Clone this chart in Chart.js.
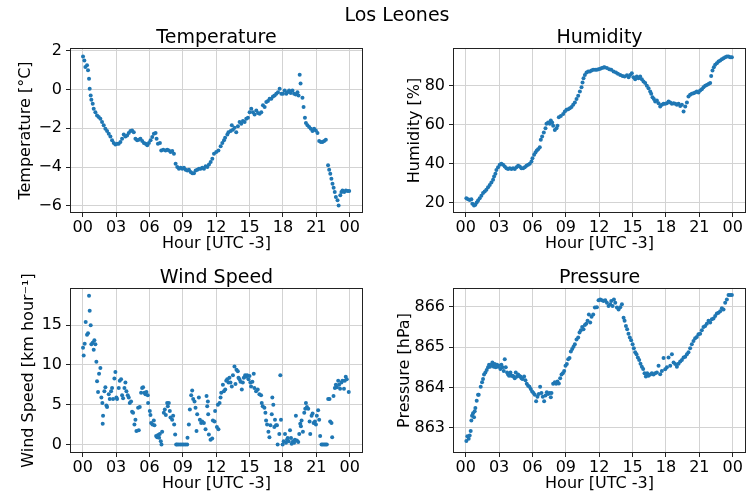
<!DOCTYPE html>
<html><head><meta charset="utf-8">
<script src="https://cdn.jsdelivr.net/npm/chart.js@4"></script>
<style>
html,body{margin:0;padding:0;background:#fff;}
#wrap{position:relative;width:748px;height:493px;overflow:hidden;}
canvas{position:absolute;left:0;top:0;}
</style></head><body>
<div id="wrap">
<canvas id="cTemp" width="748" height="493"></canvas>
<canvas id="cHum" width="748" height="493"></canvas>
<canvas id="cWind" width="748" height="493"></canvas>
<canvas id="cPres" width="748" height="493"></canvas>
</div>
<script>
// ---------- text ----------
const suptitle = 'Los Leones';
const xAxisTitle = 'Hour [UTC -3]';
const panelTitles = ['Temperature', 'Humidity', 'Wind Speed', 'Pressure'];
const yAxisTitles = ['Temperature [°C]', 'Humidity [%]', 'Wind Speed [km hour\u207B\u00B9]', 'Pressure [hPa]'];

// ---------- ticks ----------
const xTickValues = [0, 3, 6, 9, 12, 15, 18, 21, 24];
const xTickLabels = ['00', '03', '06', '09', '12', '15', '18', '21', '00'];
const tempTickValues = [-6, -4, -2, 0, 2];
const tempTickLabels = ['\u22126', '\u22124', '\u22122', '0', '2'];
const humTickValues = [20, 40, 60, 80];
const humTickLabels = ['20', '40', '60', '80'];
const windTickValues = [0, 5, 10, 15];
const windTickLabels = ['0', '5', '10', '15'];
const presTickValues = [863, 864, 865, 866];
const presTickLabels = ['863', '864', '865', '866'];

// ---------- data (hours after 00 UTC-3, values) ----------
const tempHours = [0.03,0.15,0.24,0.39,0.48,0.57,0.63,0.72,0.78,0.90,0.99,1.14,1.29,1.44,1.59,1.74,1.89,2.04,2.19,2.34,2.49,2.64,2.79,2.94,3.09,3.24,3.39,3.54,3.69,3.84,3.99,4.14,4.29,4.44,4.59,4.74,4.89,5.04,5.19,5.35,5.50,5.65,5.80,5.95,6.10,6.25,6.40,6.55,6.64,6.76,6.94,7.06,7.24,7.45,7.60,7.75,7.90,8.05,8.20,8.35,8.50,8.65,8.80,8.95,9.10,9.25,9.40,9.55,9.70,9.85,10.00,10.15,10.30,10.45,10.60,10.75,10.90,11.05,11.20,11.35,11.50,11.65,11.80,12.00,12.20,12.40,12.55,12.70,12.80,13.00,13.10,13.30,13.40,13.50,13.65,13.80,13.95,14.10,14.25,14.40,14.55,14.70,14.85,15.00,15.15,15.30,15.45,15.60,15.75,15.90,16.05,16.20,16.35,16.50,16.65,16.80,16.95,17.10,17.25,17.40,17.55,17.70,17.85,18.00,18.15,18.30,18.40,18.55,18.70,18.85,19.00,19.15,19.30,19.40,19.50,19.58,19.75,19.85,19.97,20.06,20.20,20.35,20.50,20.65,20.80,20.95,21.10,21.25,21.40,21.55,21.70,21.85,22.05,22.15,22.25,22.35,22.45,22.55,22.65,22.75,22.90,23.00,23.15,23.25,23.35,23.50,23.65,23.80,23.95];
const tempValues = [1.70,1.49,1.15,1.24,0.98,0.55,0.03,-0.31,-0.53,-0.74,-0.99,-1.17,-1.34,-1.42,-1.51,-1.68,-1.85,-2.02,-2.14,-2.28,-2.42,-2.62,-2.76,-2.83,-2.80,-2.80,-2.71,-2.54,-2.32,-2.42,-2.37,-2.25,-2.14,-2.11,-2.20,-2.54,-2.62,-2.59,-2.54,-2.66,-2.76,-2.80,-2.88,-2.76,-2.62,-2.45,-2.28,-2.25,-2.54,-2.80,-2.76,-3.14,-3.10,-3.14,-3.10,-3.14,-3.22,-3.17,-3.31,-3.83,-4.00,-4.08,-4.03,-4.08,-4.03,-4.13,-4.17,-4.13,-4.25,-4.31,-4.31,-4.17,-4.13,-4.08,-4.08,-4.03,-4.08,-3.96,-4.00,-3.86,-3.74,-3.57,-3.31,-3.22,-3.14,-2.93,-2.76,-2.62,-2.49,-2.32,-2.20,-2.14,-1.85,-2.08,-1.97,-2.20,-1.90,-1.68,-1.77,-1.63,-1.68,-1.51,-1.46,-1.17,-0.99,-1.17,-1.29,-1.08,-1.22,-1.25,-1.17,-0.82,-0.91,-0.65,-0.60,-0.48,-0.48,-0.36,-0.31,-0.22,-0.14,0.03,-0.22,-0.22,-0.05,-0.22,-0.14,-0.05,-0.19,-0.05,-0.22,-0.26,-0.14,-0.31,0.75,0.30,-0.43,-0.91,-1.46,-1.73,-1.85,-1.94,-2.02,-2.14,-2.02,-2.11,-2.25,-2.66,-2.71,-2.71,-2.66,-2.59,-3.91,-4.13,-4.34,-4.60,-4.85,-5.06,-5.28,-5.54,-5.71,-5.97,-5.45,-5.28,-5.20,-5.28,-5.20,-5.23,-5.23];

const humHours = [0.06,0.21,0.36,0.51,0.60,0.75,0.87,0.99,1.11,1.26,1.41,1.56,1.71,1.86,2.01,2.16,2.31,2.46,2.55,2.67,2.76,2.91,3.06,3.21,3.36,3.51,3.66,3.81,3.96,4.11,4.26,4.41,4.56,4.71,4.86,5.01,5.16,5.31,5.46,5.61,5.76,5.91,6.00,6.15,6.27,6.39,6.51,6.66,6.75,6.87,7.02,7.17,7.26,7.41,7.56,7.65,7.77,7.86,8.01,8.16,8.25,8.37,8.55,8.76,8.91,9.06,9.21,9.36,9.51,9.66,9.81,9.96,10.11,10.26,10.41,10.50,10.59,10.71,10.86,11.01,11.16,11.31,11.46,11.64,11.79,11.94,12.09,12.24,12.39,12.48,12.69,12.90,13.08,13.29,13.50,13.68,13.89,14.10,14.28,14.49,14.64,14.78,14.93,15.08,15.23,15.38,15.53,15.68,15.83,15.98,16.13,16.28,16.43,16.58,16.67,16.79,16.91,17.03,17.18,17.33,17.48,17.63,17.78,17.93,18.08,18.23,18.38,18.53,18.68,18.83,18.98,19.13,19.28,19.43,19.58,19.73,19.88,20.02,20.17,20.32,20.47,20.62,20.77,20.92,21.07,21.22,21.37,21.52,21.67,21.82,21.97,22.06,22.18,22.30,22.42,22.57,22.72,22.87,23.02,23.17,23.32,23.47,23.62,23.77,23.92];
const humValues = [22.4,21.9,21.5,21.9,19.5,18.6,19.0,20.2,21.2,22.4,23.6,25.0,25.8,26.7,28.0,29.2,30.4,31.8,33.5,34.9,36.9,38.3,39.5,40.0,39.5,38.6,37.8,37.3,37.8,37.3,37.8,37.3,38.3,39.0,38.6,37.8,37.8,38.3,39.0,39.5,40.0,41.2,42.9,44.6,45.8,46.8,47.5,48.5,52.3,54.0,56.1,58.3,60.5,61.2,60.5,62.2,61.2,59.5,57.4,58.3,59.5,63.9,64.6,65.6,66.8,67.7,68.0,68.5,69.1,70.3,71.5,73.2,74.9,77.1,79.3,81.7,83.9,85.6,86.8,87.4,87.4,87.9,88.2,88.2,88.3,88.5,88.8,89.1,89.4,89.6,89.1,88.5,88.2,87.4,86.8,86.2,85.6,85.1,84.8,85.5,84.4,85.6,86.5,84.4,83.4,84.8,83.9,84.8,83.4,82.2,81.4,80.0,78.8,77.1,75.9,74.2,73.2,72.0,72.5,71.1,69.4,70.3,70.8,70.8,71.1,72.0,71.5,70.8,71.1,70.8,70.3,70.8,69.7,70.3,66.8,69.4,71.5,74.5,75.4,75.9,76.2,76.6,77.1,76.6,77.6,78.3,79.3,80.0,80.5,81.0,81.4,85.1,87.9,89.6,90.8,91.6,92.5,93.0,93.7,94.2,94.7,95.0,95.0,94.7,94.7];

const windHours = [0.03,0.09,0.18,0.27,0.39,0.48,0.57,0.63,0.72,0.78,0.90,0.99,1.05,1.14,1.23,1.29,1.38,1.47,1.59,1.68,1.77,1.80,1.83,1.95,2.04,2.13,2.19,2.34,2.43,2.55,2.64,2.73,2.85,2.94,3.03,3.09,3.24,3.33,3.45,3.54,3.63,3.75,3.84,3.93,4.05,4.14,4.23,4.35,4.44,4.53,4.65,4.74,4.83,4.98,5.04,5.13,5.25,5.34,5.43,5.55,5.64,5.73,5.85,5.88,6.03,6.09,6.15,6.27,6.39,6.45,6.60,6.69,6.78,6.87,6.93,7.02,7.08,7.14,7.29,7.38,7.47,7.59,7.65,7.74,7.83,7.89,8.04,8.13,8.22,8.31,8.40,8.49,8.64,8.79,8.94,9.09,9.24,9.39,9.42,9.54,9.63,9.75,9.84,9.93,10.05,10.14,10.23,10.29,10.44,10.53,10.65,10.74,10.89,11.04,11.13,11.19,11.25,11.28,11.34,11.49,11.64,11.70,11.85,11.90,12.06,12.15,12.20,12.30,12.39,12.45,12.60,12.69,12.81,12.90,12.99,13.10,13.19,13.28,13.40,13.50,13.64,13.73,13.82,13.94,14.00,14.09,14.18,14.30,14.39,14.48,14.60,14.69,14.78,14.90,14.99,15.07,15.13,15.25,15.37,15.43,15.58,15.73,15.88,16.03,16.09,16.18,16.33,16.42,16.48,16.57,16.69,16.78,16.87,16.99,17.04,17.13,17.22,17.28,17.37,17.46,17.52,17.67,17.76,17.82,17.97,18.06,18.18,18.27,18.36,18.42,18.51,18.63,18.72,18.78,18.90,19.00,19.07,19.16,19.25,19.37,19.46,19.55,19.61,19.67,19.79,19.91,20.00,20.06,20.15,20.27,20.39,20.45,20.57,20.66,20.75,20.87,20.96,21.04,21.16,21.25,21.34,21.46,21.58,21.70,21.82,21.94,22.06,22.18,22.24,22.36,22.42,22.54,22.66,22.75,22.84,22.96,23.04,23.13,23.25,23.34,23.48,23.55,23.64,23.73,23.91];
const windValues = [12.15,11.2,12.65,15.4,13.8,14.0,18.7,16.8,15.0,12.6,12.8,11.9,13.1,12.6,10.4,7.96,6.6,8.9,9.6,5.9,5.2,2.6,3.6,6.7,7.2,4.9,4.7,6.3,5.7,6.7,7.1,5.7,8.3,9.1,5.9,5.7,7.1,8.0,8.2,6.2,5.8,7.1,7.8,6.7,6.2,5.9,5.2,5.4,4.1,4.0,2.5,3.1,1.7,4.6,1.8,4.7,6.5,7.1,7.2,6.5,6.3,6.6,6.2,5.2,4.2,3.7,2.7,2.5,3.0,2.4,1.05,0.9,1.2,0.84,1.3,0.4,0.0,1.6,4.0,4.4,3.7,5.2,4.8,5.2,4.2,3.4,3.1,3.6,2.5,1.26,0,0,0,0,0,0,0,0,0.84,2.5,4.4,6.2,6.8,5.7,5.4,4.6,1.7,3.8,5.9,3.1,2.7,2.9,2.7,1.9,6.1,4.8,5.4,3.8,1.26,0.6,0.75,3.0,2.9,4.2,2.2,5.0,1.9,5.2,5.9,6.5,7.5,6.7,6.9,8.0,8.2,7.8,8.4,7.8,7.3,8.7,9.8,7.6,9.4,9.2,8.4,8.2,7.9,6.9,7.8,8.4,8.7,8.5,8.7,8.2,8.6,7.8,7.3,7.9,8.9,7.1,6.7,6.9,6.3,6.2,5.2,4.8,4.6,4.0,3.0,2.5,1.6,0.9,2.4,3.8,5.9,5.0,2.2,3.1,2.4,2.4,0,1.3,8.7,3.1,0,0.4,1.3,0.2,0.6,0.8,0.4,1.8,0.8,0.1,0.4,0.2,0.6,3.6,0.5,0.3,1.3,2.6,2.3,3.0,1.6,4.0,4.5,5.2,4.7,4.5,2.9,1.3,3.6,3.9,2.7,2.9,2.5,3.6,4.3,3.1,1.05,0,0,0,0,0,5.7,5.7,2.9,2.7,0.9,6.1,7.1,7.5,7.2,8.0,7.5,7.0,7.8,8.0,7.0,8.0,8.5,8.2,6.6];

const presHours = [0.06,0.15,0.27,0.36,0.45,0.51,0.57,0.66,0.75,0.81,0.87,0.99,1.11,1.17,1.35,1.47,1.56,1.65,1.77,1.89,2.01,2.10,2.19,2.31,2.40,2.52,2.61,2.70,2.82,2.91,3.00,3.12,3.21,3.30,3.42,3.51,3.60,3.72,3.81,3.90,4.02,4.11,4.20,4.32,4.41,4.50,4.62,4.71,4.80,4.92,5.01,5.10,5.25,5.37,5.49,5.61,5.73,5.85,5.97,6.09,6.21,6.33,6.45,6.57,6.69,6.81,6.93,7.05,7.17,7.29,7.41,7.53,7.65,7.71,7.86,8.01,8.13,8.25,8.37,8.49,8.61,8.73,8.85,8.97,9.09,9.21,9.33,9.45,9.57,9.69,9.81,9.96,10.11,10.23,10.35,10.47,10.59,10.71,10.83,10.95,11.07,11.19,11.31,11.46,11.61,11.79,11.94,12.09,12.24,12.39,12.54,12.69,12.84,12.99,13.08,13.20,13.32,13.44,13.59,13.74,13.89,14.04,14.19,14.28,14.40,14.51,14.63,14.75,14.87,15.00,15.11,15.23,15.35,15.47,15.59,15.71,15.83,15.95,16.07,16.19,16.31,16.43,16.58,16.73,16.88,17.03,17.18,17.33,17.48,17.63,17.78,17.93,18.08,18.23,18.38,18.53,18.68,18.83,18.98,19.13,19.28,19.43,19.58,19.73,19.88,20.02,20.17,20.32,20.47,20.62,20.77,20.92,21.07,21.22,21.37,21.52,21.67,21.82,21.97,22.12,22.27,22.42,22.57,22.72,22.87,23.02,23.17,23.32,23.47,23.62,23.77,23.92];
const presValues = [862.67,862.79,862.73,862.81,862.92,863.18,863.30,863.36,863.26,863.41,863.49,863.67,863.82,863.82,864.02,864.13,864.21,864.32,864.37,864.43,864.50,864.56,864.51,864.56,864.62,864.51,864.58,864.50,864.56,864.51,864.54,864.46,864.56,864.50,864.41,864.70,864.50,864.37,864.32,864.29,864.37,864.29,864.29,864.27,864.23,864.37,864.27,864.32,864.29,864.27,864.23,864.21,864.27,864.18,864.09,864.04,864.02,863.96,863.90,863.86,863.82,863.66,863.77,863.84,864.02,863.86,863.77,863.66,863.80,863.88,863.84,863.86,863.76,863.86,864.09,864.13,864.09,864.15,864.10,864.23,864.32,864.35,864.41,864.54,864.58,864.70,864.73,864.89,864.95,865.01,865.07,865.19,865.24,865.36,865.42,865.50,865.44,865.55,865.58,865.65,865.81,865.61,865.75,865.81,865.98,865.99,866.16,866.18,866.16,866.14,866.16,866.10,866.02,866.06,866.14,866.02,866.18,866.10,865.98,865.93,865.99,866.06,865.73,865.65,865.52,865.44,865.33,865.24,865.17,865.07,864.97,864.87,864.82,864.74,864.68,864.59,864.51,864.46,864.35,864.27,864.35,864.29,864.32,864.35,864.32,864.35,864.37,864.54,864.33,864.41,864.73,864.45,864.50,864.74,864.54,864.82,864.62,864.58,864.51,864.59,864.64,864.68,864.74,864.76,864.82,864.87,864.97,865.07,865.15,865.22,865.25,865.32,865.33,865.42,865.50,865.52,865.58,865.65,865.61,865.69,865.71,865.77,865.83,865.85,865.89,865.96,865.93,866.10,866.18,866.29,866.29,866.29];

// ---------- styling / layout ----------
const FONT = "'DejaVu Sans', 'Liberation Sans', sans-serif";
const W = 748, H = 493;
const POINT_COLOR = '#1f77b4';
const GRID_COLOR = '#d3d3d3';
const TEXT_COLOR = '#000';
const SPINE_COLOR = '#222';

const framePlugin = {
  id: 'frame',
  afterDatasetsDraw(chart) {
    const a = chart.chartArea, ctx = chart.ctx;
    ctx.save();
    ctx.strokeStyle = SPINE_COLOR;
    ctx.lineWidth = 1;
    ctx.strokeRect(Math.round(a.left) - 0.5, Math.round(a.top) - 0.5, Math.round(a.right - a.left) + 1, Math.round(a.bottom - a.top) + 1);
    ctx.restore();
  }
};
const suptitlePlugin = {
  id: 'suptitle',
  afterDraw(chart) {
    const ctx = chart.ctx;
    ctx.save();
    ctx.fillStyle = TEXT_COLOR;
    ctx.font = '19px ' + FONT;
    ctx.textAlign = 'center';
    ctx.textBaseline = 'middle';
    ctx.fillText(suptitle, 397, 16);
    ctx.restore();
  }
};

function zeroPad(ax) { ax.paddingLeft = 0; ax.paddingRight = 0; ax.paddingTop = 0; ax.paddingBottom = 0; }

function makePanel(id, title, yTitle, hours, values, yVals, yLabels, yMin, yMax, box, yTitleX, extraPlugins) {
  const titleSize = 19, titleLH = 1.0, titlePadBottom = 1;
  const titleH = titleSize * titleLH + titlePadBottom;
  const axisTitleSize = 16;
  const wY = box.L - (yTitleX - axisTitleSize * 0.6);
  const hX = 41;
  const pts = hours.map((h, i) => ({ x: h, y: values[i] }));
  return new Chart(document.getElementById(id), {
    type: 'scatter',
    data: { datasets: [{ data: pts, backgroundColor: POINT_COLOR, borderWidth: 0, pointRadius: 2, pointHoverRadius: 2 }] },
    options: {
      responsive: false, animation: false, events: [],
      layout: { autoPadding: false, padding: { left: box.L - wY, top: box.T - titleH, right: W - box.R, bottom: H - box.B - hX } },
      plugins: {
        legend: { display: false }, tooltip: { enabled: false },
        title: { display: true, text: title, fullSize: false, color: TEXT_COLOR,
                 font: { family: FONT, size: titleSize, weight: 'normal', lineHeight: titleLH },
                 padding: { top: 0, bottom: titlePadBottom } }
      },
      scales: {
        x: {
          type: 'linear', min: -1.05, max: 25.1,
          afterBuildTicks: ax => { ax.ticks = xTickValues.map(v => ({ value: v })); },
          afterFit: ax => { ax.height = hX; zeroPad(ax); },
          ticks: { autoSkip: false, maxRotation: 0, color: TEXT_COLOR, padding: 1,
                   font: { family: FONT, size: 16 },
                   callback: v => xTickLabels[xTickValues.indexOf(v)] },
          grid: { color: GRID_COLOR, lineWidth: 1, tickColor: SPINE_COLOR, tickLength: 5, tickWidth: 1 },
          border: { display: false },
          title: { display: true, text: xAxisTitle, color: TEXT_COLOR, padding: { top: 0, bottom: 0 },
                   font: { family: FONT, size: axisTitleSize, lineHeight: 1.2 } }
        },
        y: {
          type: 'linear', min: yMin, max: yMax,
          afterBuildTicks: ax => { ax.ticks = yVals.map(v => ({ value: v })); },
          afterFit: ax => { ax.width = wY; zeroPad(ax); },
          ticks: { autoSkip: false, color: TEXT_COLOR, padding: 4,
                   font: { family: FONT, size: 16 },
                   callback: v => yLabels[yVals.indexOf(v)] },
          grid: { color: GRID_COLOR, lineWidth: 1, tickColor: SPINE_COLOR, tickLength: 5, tickWidth: 1 },
          border: { display: false },
          title: { display: true, text: yTitle, color: TEXT_COLOR, padding: { top: 0, bottom: 0 },
                   font: { family: FONT, size: axisTitleSize, lineHeight: 1.2 } }
        }
      }
    },
    plugins: [framePlugin].concat(extraPlugins || [])
  });
}

makePanel('cTemp', panelTitles[0], yAxisTitles[0], tempHours, tempValues, tempTickValues, tempTickLabels, -6.31, 2.08,
          { L: 71, T: 49, R: 362, B: 212 }, 26, [suptitlePlugin]);
makePanel('cHum', panelTitles[1], yAxisTitles[1], humHours, humValues, humTickValues, humTickLabels, 15.3, 98.9,
          { L: 454, T: 49, R: 745, B: 212 }, 415);
makePanel('cWind', panelTitles[2], yAxisTitles[2], windHours, windValues, windTickValues, windTickLabels, -0.95, 19.55,
          { L: 71, T: 289, R: 362, B: 452 }, 29);
makePanel('cPres', panelTitles[3], yAxisTitles[3], presHours, presValues, presTickValues, presTickLabels, 862.40, 866.44,
          { L: 454, T: 289, R: 745, B: 452 }, 405);
</script>
</body></html>
